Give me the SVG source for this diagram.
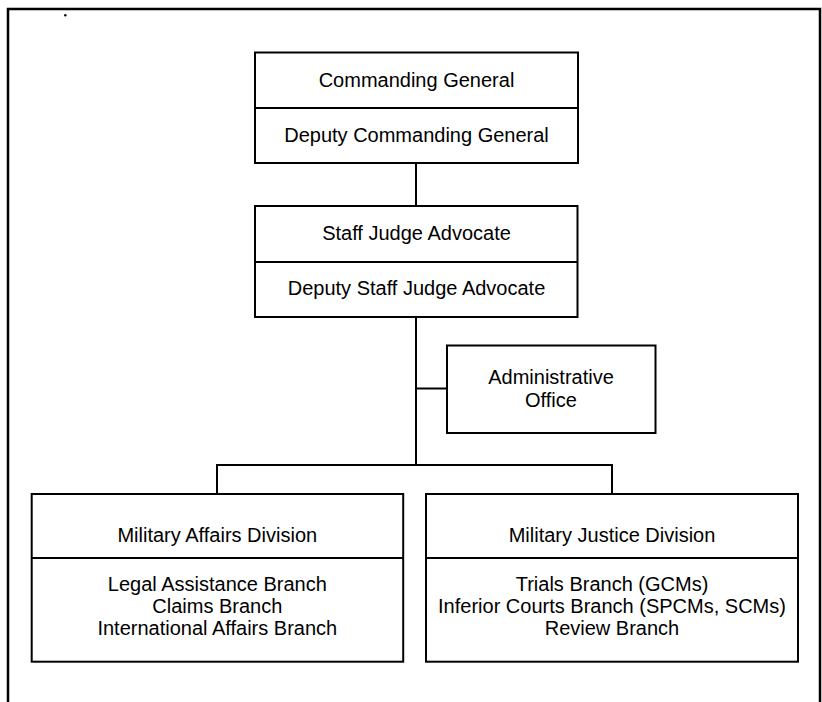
<svg xmlns="http://www.w3.org/2000/svg" width="822" height="702" viewBox="0 0 822 702">
<style>
.box{fill:#fff;stroke:#000;stroke-width:2}
.div{stroke:#000;stroke-width:2;fill:none}
.conn{stroke:#000;stroke-width:2;fill:none}
text{font-family:"Liberation Sans",Arial,sans-serif;font-size:20px;fill:#000;text-anchor:middle}
</style>
<rect width="822" height="702" fill="#fff"/>
<path d="M8,702 V9 H820 V702" fill="none" stroke="#000" stroke-width="2.5"/>
<circle cx="65.3" cy="15.3" r="1.2" fill="#000"/>
<g id="connectors">
<path class="conn" d="M416,163 V206"/>
<path class="conn" d="M416,317 V465"/>
<path class="conn" d="M416,388.5 H447"/>
<path class="conn" d="M217,465 H612"/>
<path class="conn" d="M217,464 V494"/>
<path class="conn" d="M612,464 V494"/>
</g>
<g id="commanding-general">
<rect class="box" x="255" y="52.5" width="323" height="110.5"/>
<path class="div" d="M255,108 H578"/>
<text x="416.5" y="86.7">Commanding General</text>
<text x="416.5" y="141.7">Deputy Commanding General</text>
</g>
<g id="staff-judge-advocate">
<rect class="box" x="255" y="206" width="322.5" height="111"/>
<path class="div" d="M255,262 H577.5"/>
<text x="416.5" y="239.5">Staff Judge Advocate</text>
<text x="416.5" y="294.7">Deputy Staff Judge Advocate</text>
</g>
<g id="administrative-office">
<rect class="box" x="447" y="345.5" width="208.5" height="87.5"/>
<text x="551" y="384">Administrative</text>
<text x="551" y="406.7">Office</text>
</g>
<g id="military-affairs-division">
<rect class="box" x="31.7" y="494" width="371.5" height="167.7"/>
<path class="div" d="M31.7,558 H403.2"/>
<text x="217.3" y="541.7">Military Affairs Division</text>
<text x="217.3" y="590.5">Legal Assistance Branch</text>
<text x="217.3" y="612.5">Claims Branch</text>
<text x="217.3" y="634.5">International Affairs Branch</text>
</g>
<g id="military-justice-division">
<rect class="box" x="426" y="494" width="372" height="167.7"/>
<path class="div" d="M426,558 H798"/>
<text x="612" y="541.7">Military Justice Division</text>
<text x="612" y="590.5">Trials Branch (GCMs)</text>
<text x="612" y="612.5">Inferior Courts Branch (SPCMs, SCMs)</text>
<text x="612" y="634.5">Review Branch</text>
</g>
</svg>
